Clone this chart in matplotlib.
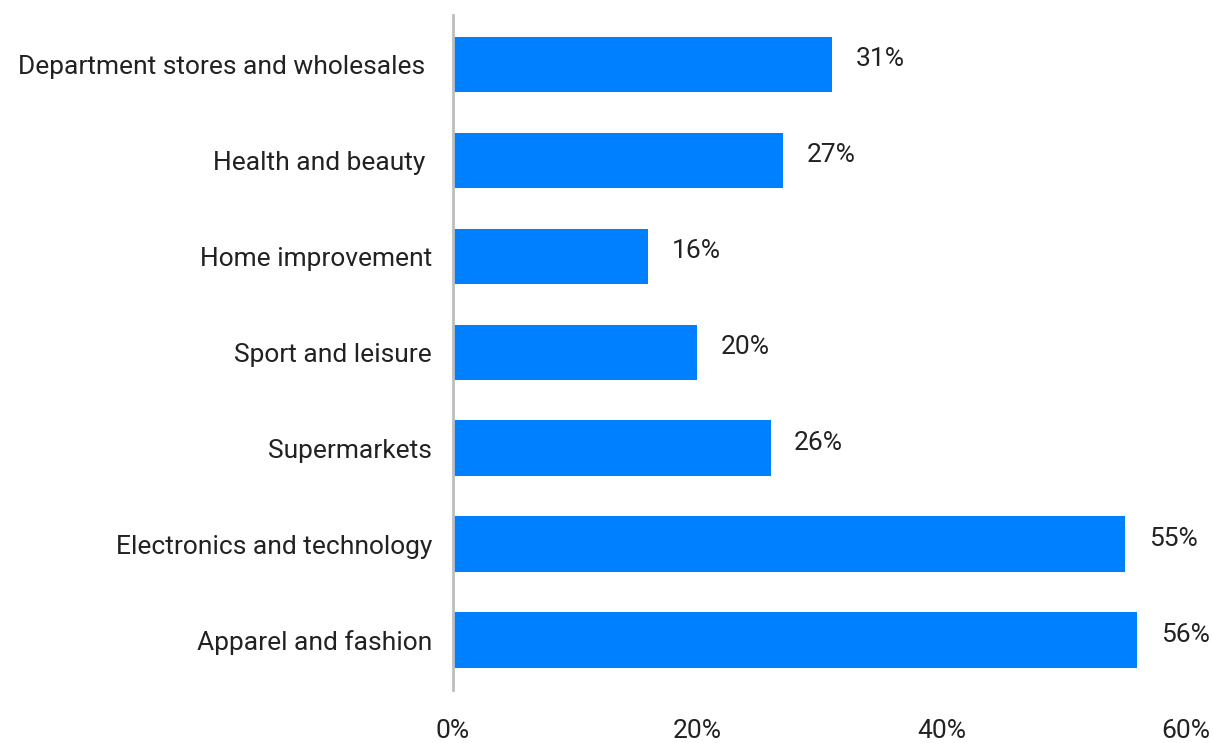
import matplotlib.pyplot as plt

categories = ["Department stores and wholesales ", "Health and beauty ", "Home improvement",
              "Sport and leisure", "Supermarkets", "Electronics and technology", "Apparel and fashion"]
values = [31, 27, 16, 20, 26, 55, 56]
xticks = [0, 20, 40, 60]

plt.rcParams['font.family'] = ['Roboto', 'DejaVu Sans']

fig = plt.figure(figsize=(12.14, 7.43), dpi=100)
ax = fig.add_axes([0.373, 0.0713, 0.604, 0.909])

ypos = list(range(len(categories)))
ax.barh(ypos, values, height=0.58, color='#007FFF')
for y, v in zip(ypos, values):
    ax.annotate(f"{v}%", (v, y), xytext=(17, 4), textcoords='offset points',
                ha='left', va='center', fontsize=19, color='#222222')

ax.set_yticks(ypos)
ax.set_yticklabels(categories, fontsize=19, color='#222222')
ax.set_ylim(len(categories) - 0.48, -0.52)
ax.set_xlim(0, 60)
ax.set_xticks(xticks)
ax.set_xticklabels([f"{t}%" for t in xticks], fontsize=19, color='#222222')
ax.tick_params(axis='y', length=0, pad=15)
ax.tick_params(axis='x', length=0, pad=21)

for s in ['top', 'right', 'bottom']:
    ax.spines[s].set_visible(False)
ax.spines['left'].set_color('#BDBDBD')
ax.spines['left'].set_linewidth(2)

fig.savefig("out.png", dpi=100)
